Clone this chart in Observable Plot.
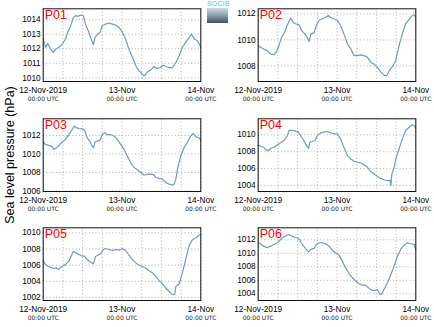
<!DOCTYPE html>
<html>
<head>
<meta charset="utf-8">
<script src="https://cdn.jsdelivr.net/npm/d3@7"></script>
<script src="https://cdn.jsdelivr.net/npm/@observablehq/plot@0.6"></script>
<style>
  html, body { margin: 0; padding: 0; background: #fff; }
  #wrap { position: relative; width: 434px; height: 327px; overflow: hidden; font-family: "Liberation Sans", Arial, sans-serif; }
  .panel { position: absolute; }
  #ylab { position: absolute; left: 10px; top: 155px; transform: translate(-50%, -50%) rotate(-90deg); white-space: nowrap; font-size: 12.5px; color: #000; }
  #logo { position: absolute; left: 207px; top: 0px; width: 22px; }
  #logo .t { font-size: 7px; color: #4cc3dd; line-height: 8px; letter-spacing: 0.2px; }
  #logo .g { width: 21px; height: 15px; background: linear-gradient(#cfdbe3, #8ea3b1 45%, #3e5262); }
</style>
</head>
<body>
<div id="wrap">
  <div id="ylab">Sea level pressure (hPa)</div>
  <div id="logo"><div class="t">SOCIB</div><div class="g"></div></div>
</div>
<script>
// ---- data (hours since 12-Nov-2019 00:00 UTC, hPa) ----
const panelNames = ["P01", "P02", "P03", "P04", "P05", "P06"];
const gridHours = [0, 6, 12, 18, 24, 30, 36, 42, 48];
const xTickHours = [0, 24, 48];
const xTickDates = ["12-Nov-2019", "13-Nov", "14-Nov"];
const xTickTimes = ["00:00 UTC", "00:00 UTC", "00:00 UTC"];

const yDomains = [[1009.75, 1014.75], [1006.82, 1012.38], [1005.95, 1013.8], [1003.29, 1011.9], [1001.63, 1010.62], [1003.0, 1013.78]];
const yTicks = [
  [1010, 1011, 1012, 1013, 1014],
  [1008, 1010, 1012],
  [1006, 1008, 1010, 1012],
  [1004, 1006, 1008, 1010],
  [1002, 1004, 1006, 1008, 1010],
  [1004, 1006, 1008, 1010, 1012]
];

const p01 = [[0,1012.67],[0.7,1012.1],[1.4,1012.37],[2.2,1012.0],[3.1,1011.75],[3.8,1011.98],[4.8,1012.1],[5.8,1012.32],[6.8,1012.67],[7.5,1013.13],[8.3,1013.54],[9.2,1014.16],[9.9,1014.28],[10.6,1014.23],[11.4,1014.32],[12.2,1014.28],[12.9,1013.7],[13.9,1013.13],[14.6,1012.67],[15.3,1012.28],[15.8,1012.78],[16.5,1013.0],[17.3,1013.13],[18.0,1013.59],[19.0,1013.7],[20.0,1013.77],[21.1,1013.7],[22.1,1013.63],[23.1,1013.47],[24.1,1013.13],[25.1,1012.67],[26.1,1011.98],[27.2,1011.4],[28.2,1010.83],[29.2,1010.48],[30.2,1010.25],[30.9,1010.14],[31.7,1010.41],[32.8,1010.55],[33.8,1010.78],[34.6,1010.64],[35.6,1010.71],[36.6,1010.87],[37.3,1010.78],[38.4,1010.71],[39.4,1010.71],[40.4,1011.06],[41.4,1011.52],[42.4,1012.1],[43.4,1012.44],[44.5,1012.78],[45.2,1013.0],[46.0,1012.67],[47.0,1012.55],[48.0,1012.1]];

const p02 = [[0,1009.56],[0.7,1009.44],[1.7,1009.31],[2.7,1009.18],[3.8,1008.92],[4.8,1008.87],[5.5,1009.05],[6.3,1009.56],[7.1,1010.2],[8.1,1010.59],[8.8,1011.1],[9.9,1011.67],[10.6,1011.36],[11.4,1011.23],[12.4,1011.18],[13.2,1010.72],[14.2,1010.46],[14.9,1010.2],[15.5,1009.87],[16.0,1010.46],[17.0,1010.54],[17.7,1011.1],[18.5,1011.49],[19.5,1011.62],[20.5,1011.74],[21.4,1011.87],[22.1,1011.7],[23.1,1011.62],[24.1,1011.49],[25.1,1011.1],[26.1,1010.46],[27.2,1009.69],[28.2,1009.31],[29.2,1008.8],[30.2,1008.8],[31.2,1008.85],[32.2,1008.8],[33.3,1008.67],[34.3,1008.28],[35.3,1008.15],[36.3,1007.9],[37.3,1007.56],[38.3,1007.31],[39.1,1007.26],[39.9,1007.64],[40.9,1007.97],[41.9,1008.41],[42.9,1009.56],[43.9,1010.46],[44.9,1011.23],[45.9,1011.56],[47.0,1011.87],[47.5,1011.92],[48.0,1011.74]];

const p03 = [[0,1011.29],[0.7,1011.04],[1.7,1010.93],[2.7,1010.79],[3.3,1010.5],[4.1,1010.68],[4.8,1010.93],[5.8,1011.29],[6.8,1011.57],[7.8,1012.1],[8.5,1012.46],[9.4,1013.0],[10.2,1012.82],[10.9,1012.75],[11.9,1012.71],[12.6,1012.57],[13.4,1011.75],[14.2,1011.39],[14.9,1010.86],[15.3,1010.68],[15.8,1011.29],[16.5,1011.39],[17.3,1011.5],[18.0,1012.1],[18.7,1012.29],[19.5,1012.1],[20.5,1012.1],[21.6,1011.93],[22.6,1011.57],[23.6,1011.04],[24.6,1010.5],[25.6,1009.79],[26.6,1009.07],[27.7,1008.54],[28.7,1008.29],[29.7,1008.0],[30.7,1007.71],[31.7,1007.82],[32.7,1007.82],[33.8,1007.71],[34.3,1007.46],[35.3,1007.36],[36.3,1007.29],[37.3,1006.93],[38.3,1006.75],[39.4,1006.64],[39.9,1006.75],[40.4,1007.29],[40.9,1008.36],[41.9,1009.79],[42.9,1010.68],[43.9,1011.21],[44.9,1011.93],[45.7,1012.21],[46.5,1011.86],[47.5,1011.75],[48.0,1011.46]];

const p04 = [[0,1008.81],[0.7,1008.65],[1.7,1008.53],[2.2,1008.25],[3.3,1008.13],[3.8,1008.41],[4.8,1008.53],[5.8,1008.81],[6.8,1009.05],[7.8,1009.33],[8.8,1009.84],[9.4,1010.52],[10.4,1010.52],[11.4,1010.44],[12.2,1010.32],[12.9,1009.92],[13.9,1009.33],[14.6,1008.81],[15.3,1008.41],[15.8,1009.13],[16.5,1009.21],[17.3,1009.33],[18.0,1009.92],[19.0,1010.24],[20.0,1010.32],[21.1,1010.4],[22.1,1010.24],[23.1,1010.12],[24.1,1010.12],[25.1,1009.52],[26.1,1008.53],[27.2,1007.54],[28.2,1007.14],[29.2,1006.87],[30.2,1006.75],[31.2,1006.67],[32.2,1006.47],[33.3,1006.15],[34.3,1005.63],[35.3,1005.36],[36.3,1005.08],[37.3,1004.84],[38.3,1004.68],[39.4,1004.56],[40.1,1004.64],[40.4,1003.97],[40.7,1005.36],[41.4,1006.15],[41.9,1007.14],[42.9,1008.33],[43.9,1009.52],[44.9,1010.52],[46.0,1010.91],[47.0,1011.19],[47.5,1011.11],[48.0,1010.79]];

const p05 = [[0,1006.57],[0.7,1006.07],[1.4,1005.87],[2.2,1005.74],[3.3,1005.58],[4.1,1005.66],[4.8,1005.45],[5.3,1005.74],[5.8,1005.87],[6.8,1006.07],[7.8,1006.49],[8.5,1007.11],[9.2,1007.73],[9.9,1007.52],[10.9,1007.31],[11.9,1007.11],[12.6,1007.11],[13.4,1006.69],[14.4,1006.4],[15.3,1006.16],[16.0,1007.11],[16.7,1007.23],[17.5,1007.4],[18.3,1007.93],[19.0,1008.06],[20.0,1007.93],[21.1,1007.81],[22.1,1007.93],[23.1,1007.85],[24.1,1008.06],[25.1,1007.81],[26.1,1007.23],[27.2,1006.69],[28.2,1006.28],[29.2,1005.99],[30.2,1005.87],[31.2,1005.66],[32.2,1005.33],[33.3,1005.04],[34.3,1004.63],[35.3,1004.09],[36.3,1003.68],[37.3,1003.18],[38.3,1002.77],[39.1,1002.44],[39.7,1002.36],[40.1,1002.44],[40.4,1003.39],[41.4,1003.68],[42.4,1005.04],[43.4,1006.69],[44.4,1008.35],[45.5,1009.17],[46.5,1009.38],[47.5,1009.71],[48.0,1009.79]];

const p06 = [[0,1011.56],[0.7,1011.41],[1.7,1011.06],[2.7,1010.81],[3.8,1011.06],[4.8,1011.31],[5.8,1011.56],[6.8,1012.05],[7.8,1012.4],[8.8,1012.69],[9.4,1012.79],[10.2,1012.54],[10.9,1012.4],[11.9,1012.3],[12.6,1012.05],[13.4,1011.31],[14.4,1010.72],[15.3,1010.22],[16.0,1010.57],[17.0,1010.72],[17.7,1011.31],[18.5,1011.56],[19.5,1011.56],[20.5,1011.41],[21.6,1011.06],[22.6,1010.42],[23.6,1010.07],[24.6,1009.73],[25.6,1008.84],[26.6,1007.85],[27.7,1006.96],[28.7,1006.37],[29.7,1005.88],[30.7,1005.48],[31.7,1005.28],[32.7,1005.28],[33.8,1004.79],[34.8,1004.49],[35.8,1004.49],[36.3,1004.64],[37.0,1004.0],[37.5,1003.9],[38.3,1004.64],[39.4,1005.63],[40.4,1006.86],[41.4,1008.1],[42.4,1009.58],[43.4,1010.57],[44.4,1011.21],[45.5,1011.56],[46.5,1011.41],[47.5,1011.31],[48.0,1010.57]];

const series = [p01, p02, p03, p04, p05, p06];

// ---- layout ----
const wrap = document.getElementById("wrap");
const colLeft = [0, 217];
const rowTop = [0, 110, 219];
const rowHeight = [110, 110, 108];
const colMargins = [[42.7, 16.7], [40.7, 18.7]];
const rowMargins = [[8.3, 29], [8.3, 29], [8.3, 27]];

series.forEach((data, i) => {
  const col = i % 2, row = Math.floor(i / 2);
  const chart = Plot.plot({
    width: 217,
    height: rowHeight[row],
    marginLeft: colMargins[col][0],
    marginRight: colMargins[col][1],
    marginTop: rowMargins[row][0],
    marginBottom: rowMargins[row][1],
    style: { fontFamily: "'Liberation Sans', Arial, sans-serif", background: "transparent", overflow: "visible" },
    x: { domain: [0, 48], axis: null },
    y: { domain: yDomains[i], ticks: yTicks[i], tickSize: 0, tickPadding: 2.5, label: null, tickFormat: d => String(d) },
    marks: [
      Plot.ruleX(gridHours, { x: d => d, stroke: "#9a9a9a", strokeWidth: 0.8, strokeDasharray: "1,2.3" }),
      Plot.ruleY(yTicks[i], { y: d => d, stroke: "#9a9a9a", strokeWidth: 0.8, strokeDasharray: "1,2.3" }),
      Plot.line(data, { x: d => d[0], y: d => d[1], stroke: "#6f9ac4", strokeWidth: 1.2 }),
      Plot.frame({ stroke: "#111", strokeWidth: 1 }),
      Plot.text([panelNames[i]], { frameAnchor: "top-left", text: d => d, dx: 1.5, dy: 1, fill: "#ff0000", fontSize: 12.5, textAnchor: "start", lineAnchor: "top" }),
      Plot.text(xTickHours, { x: d => d, text: (d, j) => xTickDates[j], frameAnchor: "bottom", dy: 8.6, lineAnchor: "middle", fontSize: 8.3, fill: "#000" }),
      Plot.text(xTickHours, { x: d => d, text: (d, j) => xTickTimes[j], frameAnchor: "bottom", dy: 17.6, lineAnchor: "middle", fontSize: 6, fill: "#222", fontFamily: "'DejaVu Sans', sans-serif", letterSpacing: 0.7 })
    ]
  });
  chart.querySelectorAll("g[aria-label='y-axis tick label'] text, g[aria-label='y-axis tick label']").forEach(el => { el.style.fontSize = "8.3px"; });
  const div = document.createElement("div");
  div.className = "panel";
  div.style.left = colLeft[col] + "px";
  div.style.top = rowTop[row] + "px";
  div.appendChild(chart);
  wrap.appendChild(div);
});
</script>
</body>
</html>
